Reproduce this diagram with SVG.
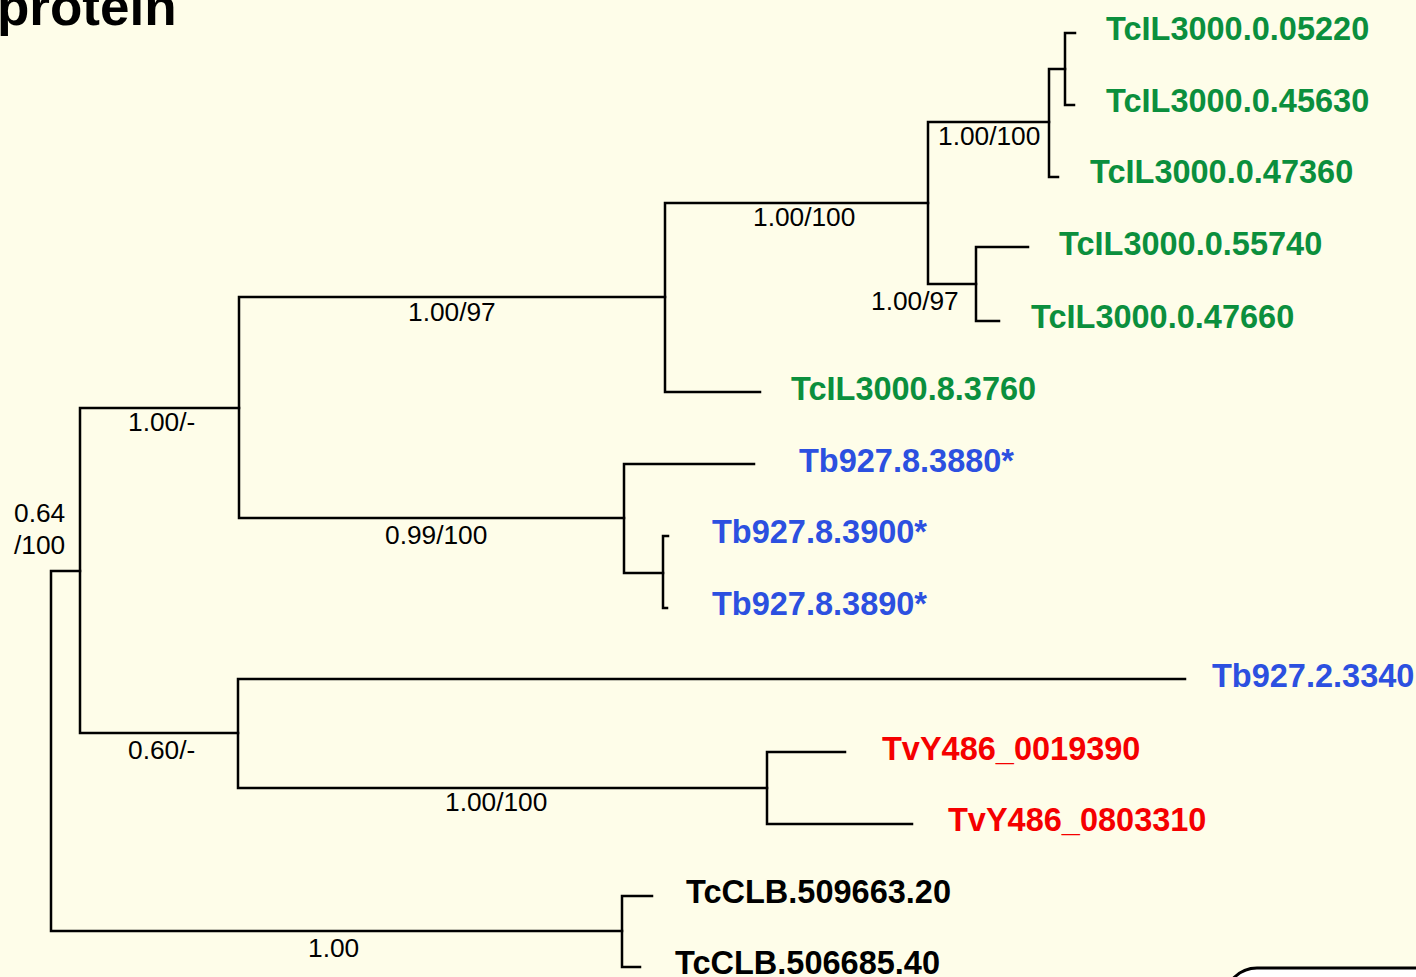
<svg xmlns="http://www.w3.org/2000/svg" width="1416" height="977" viewBox="0 0 1416 977">
<style>
.bg{fill:#FEFDE9}
.br{fill:none;stroke:#000;stroke-width:2.5;stroke-linecap:square}
.lf{font-family:"Liberation Sans",Arial,sans-serif;font-weight:bold;font-size:32.5px}
.g{fill:#0B8F3D}.b{fill:#2C50E0}.r{fill:#F50000}.k{fill:#000}
.sp{font-family:"Liberation Sans",Arial,sans-serif;font-size:26.3px;fill:#000}
</style>
<rect class="bg" x="0" y="0" width="1416" height="977"/>
<text x="-3" y="25" font-family="Liberation Sans, Arial, sans-serif" font-weight="bold" font-size="53" fill="#000">protein</text>
<g id="connectors">
<path class="br" d="M80,571 H51 V931 H622"/>
<path class="br" d="M239,408 H80 V733 H238"/>
<path class="br" d="M665,297 H239 V518 H624"/>
<path class="br" d="M928,203 H665 V392 H760"/>
<path class="br" d="M1049,122 H928 V284 H976"/>
<path class="br" d="M1065,69 H1049 V177 H1058"/>
<path class="br" d="M1075,33 H1065 V105 H1074"/>
<path class="br" d="M1028,247 H976 V321 H999"/>
<path class="br" d="M754,464 H624 V573 H663"/>
<path class="br" d="M668,536 H663 V608 H667"/>
<path class="br" d="M1185,679 H238 V788 H767"/>
<path class="br" d="M845,752 H767 V824 H912"/>
<path class="br" d="M652,896 H622 V967 H640"/>
</g>
<g id="support">
<text class="sp" x="938" y="145">1.00/100</text>
<text class="sp" x="753" y="226">1.00/100</text>
<text class="sp" x="408" y="321">1.00/97</text>
<text class="sp" x="871" y="310">1.00/97</text>
<text class="sp" x="128" y="431">1.00/-</text>
<text class="sp" x="385" y="544">0.99/100</text>
<text class="sp" x="14" y="522">0.64</text>
<text class="sp" x="14" y="554">/100</text>
<text class="sp" x="128" y="759">0.60/-</text>
<text class="sp" x="445" y="811">1.00/100</text>
<text class="sp" x="308" y="957">1.00</text>
</g>
<g id="n1"><text class="lf g" x="1106" y="40">TcIL3000.0.05220</text></g>
<g id="n2"><text class="lf g" x="1106" y="112">TcIL3000.0.45630</text></g>
<g id="n3"><text class="lf g" x="1090" y="183">TcIL3000.0.47360</text></g>
<g id="n4"><text class="lf g" x="1059" y="255">TcIL3000.0.55740</text></g>
<g id="n5"><text class="lf g" x="1031" y="328">TcIL3000.0.47660</text></g>
<g id="n6"><text class="lf g" x="791" y="400">TcIL3000.8.3760</text></g>
<g id="n7"><text class="lf b" x="799" y="472">Tb927.8.3880*</text></g>
<g id="n8"><text class="lf b" x="712" y="543">Tb927.8.3900*</text></g>
<g id="n9"><text class="lf b" x="712" y="615">Tb927.8.3890*</text></g>
<g id="n10"><text class="lf b" x="1212" y="687">Tb927.2.3340</text></g>
<g id="n11"><text class="lf r" x="882" y="760">TvY486_0019390</text></g>
<g id="n12"><text class="lf r" x="948" y="831">TvY486_0803310</text></g>
<g id="n13"><text class="lf k" x="686" y="903">TcCLB.509663.20</text></g>
<g id="n14"><text class="lf k" x="675" y="974">TcCLB.506685.40</text></g>
<rect x="1225" y="968" width="260" height="80" rx="32" fill="#fff" stroke="#000" stroke-width="3"/>
</svg>
